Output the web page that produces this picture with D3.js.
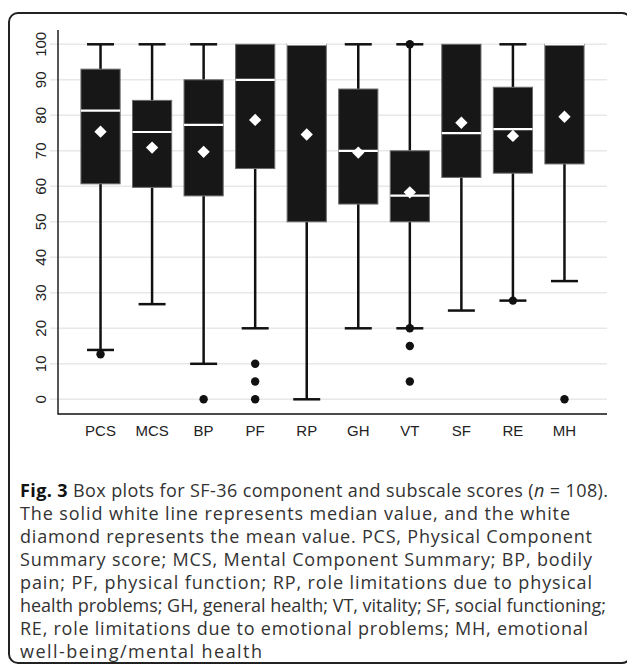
<!DOCTYPE html>
<html>
<head>
<meta charset="utf-8">
<script src="https://cdn.jsdelivr.net/npm/d3@7"></script>
<style>
    body { margin: 0; background: #fff; }
    svg { display: block; }
</style>
</head>
<body>
<div id="chart"></div>
<script>
const categories = ['PCS', 'MCS', 'BP', 'PF', 'RP', 'GH', 'VT', 'SF', 'RE', 'MH'];
const q1 = [60.7, 59.7, 57.3, 65, 50, 55, 50, 62.5, 63.7, 66.3];
const medians = [81.3, 75.3, 77.3, 90, 100, 70, 57.4, 75, 76.1, 100];
const q3 = [93, 84.2, 90, 100, 100, 87.4, 70, 100, 87.9, 100];
const whiskerLow = [13.9, 26.8, 10, 20, 0, 20, 20, 25, 27.8, 33.3];
const whiskerHigh = [100, 100, 100, 100, 100, 100, 100, 100, 100, 100];
const means = [75.4, 70.9, 69.7, 78.7, 74.6, 69.5, 58.3, 77.9, 74.2, 79.6];
const outliers = [[12.7], [], [0], [10, 5, 0], [], [], [100, 20, 15, 5], [], [27.8], [0]];
const yTicks = [0, 10, 20, 30, 40, 50, 60, 70, 80, 90, 100];

const captionBold = 'Fig. 3';
const captionLines = [
    ' Box plots for SF-36 component and subscale scores (n = 108).',
    'The solid white line represents median value, and the white',
    'diamond represents the mean value. PCS, Physical Component',
    'Summary score; MCS, Mental Component Summary; BP, bodily',
    'pain; PF, physical function; RP, role limitations due to physical',
    'health problems; GH, general health; VT, vitality; SF, social functioning;',
    'RE, role limitations due to emotional problems; MH, emotional',
    'well-being/mental health'
];
// where each caption line ends on the right (the text is spread to it)
const captionEnds = [608, 570, 592, 592, 592, 606, 588, 262];

const width = 627;
const height = 666;

const svg = d3.select('#chart')
    .append('svg')
    .attr('width', width)
    .attr('height', height);

// frame round figure + caption
svg.append('rect')
    .attr('x', 9)
    .attr('y', 13)
    .attr('width', 622)
    .attr('height', 650)
    .attr('rx', 9)
    .attr('fill', 'none')
    .attr('stroke', '#222')
    .attr('stroke-width', 2);

const plot = { left: 58, right: 607, top: 30, bottom: 414 };

const y = d3.scaleLinear()
    .domain([0, 100])
    .range([399.3, 44.3]);

const x = d3.scaleBand()
    .domain(categories)
    .range([plot.left, plot.right])
    .paddingInner(0.24)
    .paddingOuter(0.445);

const bw = x.bandwidth();
const capW = 27;

// grid + ticks
svg.append('g')
    .selectAll('line')
    .data(yTicks)
    .enter()
    .append('line')
    .attr('x1', plot.left - 8)
    .attr('x2', plot.right)
    .attr('y1', d => y(d))
    .attr('y2', d => y(d))
    .attr('stroke', '#e8e8e8')
    .attr('stroke-width', 1.6);

svg.append('g')
    .selectAll('text')
    .data(yTicks)
    .enter()
    .append('text')
    .attr('transform', d => `translate(46,${y(d)}) rotate(-90)`)
    .attr('text-anchor', 'middle')
    .attr('font-family', 'Liberation Sans, Arial, sans-serif')
    .attr('font-size', '15px')
    .attr('fill', '#222')
    .text(d => d);

svg.append('g')
    .selectAll('text')
    .data(categories)
    .enter()
    .append('text')
    .attr('x', d => x(d) + bw / 2)
    .attr('y', 435.5)
    .attr('text-anchor', 'middle')
    .attr('font-family', 'Liberation Sans, Arial, sans-serif')
    .attr('font-size', '15px')
    .attr('fill', '#222')
    .text(d => d);

svg.append('path')
    .attr('d', `M${plot.left},${plot.top}V${plot.bottom}H${plot.right}`)
    .attr('fill', 'none')
    .attr('stroke', '#111')
    .attr('stroke-width', 1.4);

const boxes = categories.map((c, i) => ({
    name: c,
    q1: q1[i],
    median: medians[i],
    q3: q3[i],
    lo: whiskerLow[i],
    hi: whiskerHigh[i],
    mean: means[i],
    out: outliers[i]
}));

const g = svg.append('g')
    .selectAll('g')
    .data(boxes)
    .enter()
    .append('g')
    .attr('transform', d => `translate(${x(d.name) + bw / 2},0)`);

// whiskers
g.filter(d => d.hi > d.q3)
    .append('line')
    .attr('y1', d => y(d.q3))
    .attr('y2', d => y(d.hi))
    .attr('stroke', '#111')
    .attr('stroke-width', 2.5);

g.filter(d => d.hi > d.q3)
    .append('line')
    .attr('x1', -capW / 2)
    .attr('x2', capW / 2)
    .attr('y1', d => y(d.hi))
    .attr('y2', d => y(d.hi))
    .attr('stroke', '#111')
    .attr('stroke-width', 2.5);

g.append('line')
    .attr('y1', d => y(d.q1))
    .attr('y2', d => y(d.lo))
    .attr('stroke', '#111')
    .attr('stroke-width', 2.5);

g.append('line')
    .attr('x1', -capW / 2)
    .attr('x2', capW / 2)
    .attr('y1', d => y(d.lo))
    .attr('y2', d => y(d.lo))
    .attr('stroke', '#111')
    .attr('stroke-width', 2.5);

g.append('rect')
    .attr('x', -bw / 2)
    .attr('width', bw)
    .attr('y', d => y(d.q3))
    .attr('height', d => y(d.q1) - y(d.q3))
    .attr('fill', '#171717')
    .attr('stroke', '#6a6a6a')
    .attr('stroke-width', 1);

g.append('line')
    .attr('x1', -bw / 2)
    .attr('x2', bw / 2)
    .attr('y1', d => y(d.median))
    .attr('y2', d => y(d.median))
    .attr('stroke', '#fff')
    .attr('stroke-width', 2.2);

g.append('path')
    .attr('d', d3.symbol().type(d3.symbolSquare).size(76)())
    .attr('transform', d => `translate(0,${y(d.mean)}) rotate(45)`)
    .attr('fill', '#fff');

g.selectAll('circle')
    .data(d => d.out)
    .enter()
    .append('circle')
    .attr('cy', d => y(d))
    .attr('r', 4.2)
    .attr('fill', '#111');

// caption
const cap = svg.append('g')
    .attr('font-family', 'Open Sans, sans-serif')
    .attr('font-size', '18px')
    .attr('fill', '#333');

const capLeft = 20;

captionLines.forEach((line, i) => {
    const t = cap.append('text')
        .attr('x', capLeft)
        .attr('y', 497 + i * 23)
        .attr('xml:space', 'preserve')
        .attr('textLength', captionEnds[i] - capLeft)
        .attr('lengthAdjust', 'spacing');
    if (i === 0) {
        t.append('tspan')
            .attr('font-weight', 'bold')
            .attr('fill', '#111')
            .text(captionBold);
        const parts = line.split('n = 108');
        t.append('tspan').text(parts[0]);
        t.append('tspan').attr('font-style', 'italic').text('n');
        t.append('tspan').text(' = 108' + parts[1]);
    } else {
        t.text(line);
    }
});
</script>
</body>
</html>
